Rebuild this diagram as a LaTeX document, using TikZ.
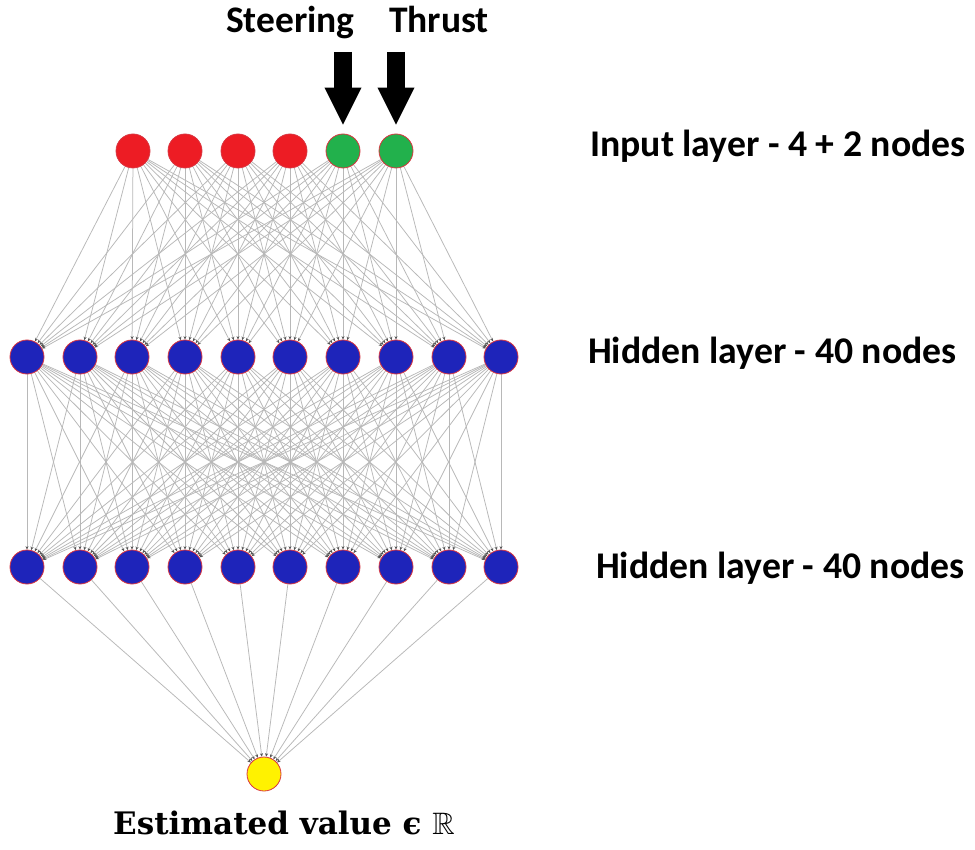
\documentclass[tikz,border=0pt]{standalone}
\usepackage{fontspec}
\usepackage{amsmath,amssymb}
\setmainfont{Carlito}
\newfontfamily\captionserif{DejaVu Serif}
\usetikzlibrary{arrows.meta,backgrounds}

\definecolor{inred}{HTML}{ED1C24}
\definecolor{ingreen}{HTML}{22B14C}
\definecolor{hidblue}{RGB}{30,36,186}
\definecolor{outyellow}{HTML}{FFF200}
\definecolor{rimred}{HTML}{D9343F}
\definecolor{edgegray}{HTML}{B8B8B8}
\definecolor{tipgray}{HTML}{555555}

\tikzset{
  neuron/.style={circle, draw=rimred, line width=0.8pt, minimum size=34pt, inner sep=0pt},
  inputnode/.style={neuron, fill=inred},
  actionnode/.style={neuron, fill=ingreen},
  hiddennode/.style={neuron, fill=hidblue},
  outputnode/.style={neuron, fill=outyellow},
  synapse/.style={draw=edgegray, line width=0.75pt,
    -{Stealth[length=3.5pt,width=3pt,color=tipgray]}},
  bigarrow/.style={draw=black, line width=18pt,
    -{Triangle[length=38pt,width=34pt]}, shorten >=8pt},
  layerlabel/.style={anchor=base west, inner sep=0pt, font=\fontsize{37.7}{40}\selectfont\bfseries},
  toplabel/.style={anchor=base west, inner sep=0pt, font=\fontsize{37.5}{40}\selectfont\bfseries},
}

\begin{document}
\begin{tikzpicture}[x=1pt,y=-1pt]
  \useasboundingbox (0,0) rectangle (975,850);

  % input layer: four state inputs and two action inputs
  \foreach \i/\x in {1/133,2/185,3/238,4/290}
    \node[inputnode] (in\i) at (\x,151) {};
  \node[actionnode] (in5) at (343,151) {};
  \node[actionnode] (in6) at (396,151) {};

  % two hidden layers and the output unit
  \foreach \j/\x in {1/27,2/80,3/132,4/185,5/238,6/290,7/343,8/396,9/449,10/501} {
    \node[hiddennode] (ha\j) at (\x,357) {};
    \node[hiddennode] (hb\j) at (\x,567) {};
  }
  \node[outputnode] (out) at (264,774) {};

  % connections, kept behind the neurons
  \begin{scope}[on background layer]
    \fill[white] (0,0) rectangle (975,850);
    \foreach \i in {1,...,6}
      \foreach \j in {1,...,10}
        \draw[synapse] (in\i) -- (ha\j);
    \foreach \i in {1,...,10}
      \foreach \j in {1,...,10}
        \draw[synapse] (ha\i) -- (hb\j);
    \foreach \i in {1,...,10}
      \draw[synapse] (hb\i) -- (out);
  \end{scope}

  % action signals feeding the green inputs
  \coordinate (steerTop) at (343,52);
  \coordinate (thrustTop) at (396,52);
  \draw[bigarrow] (steerTop) -- (in5.north);
  \draw[bigarrow] (thrustTop) -- (in6.north);

  \node[toplabel] (steerlbl) at (226,33) {Steering};
  \node[toplabel] (thrustlbl) at (389,33) {Thrust};

  % layer captions
  \node[layerlabel] (lblin) at (590,157) {Input layer - 4 + 2 nodes};
  \node[layerlabel] (lblh1) at (588,363) {Hidden layer - 40 nodes};
  \node[layerlabel] (lblh2) at (596,578) {Hidden layer - 40 nodes};

  \node[anchor=base west, inner sep=0pt, font=\fontsize{31}{35}\selectfont]
    (lblout) at (113,834) {\captionserif\bfseries Estimated value ϵ {\mdseries$\mathbb{R}$}};
\end{tikzpicture}
\end{document}
